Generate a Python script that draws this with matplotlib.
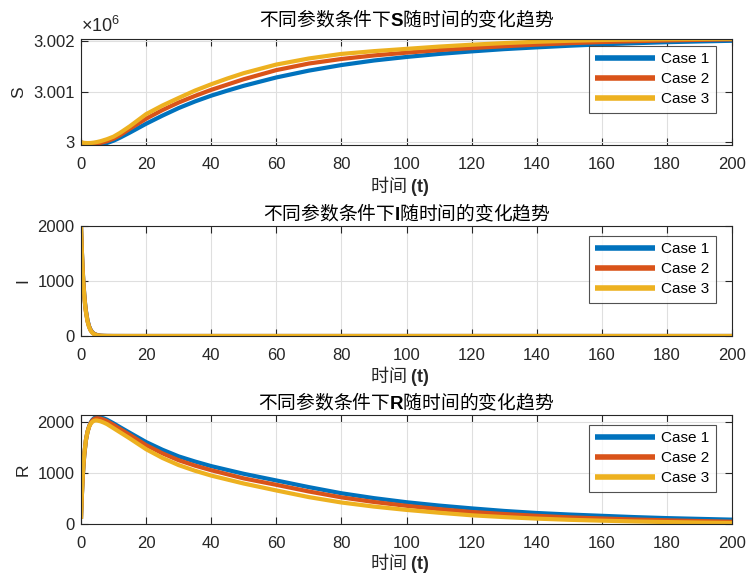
import matplotlib
matplotlib.use("Agg")
import matplotlib.pyplot as plt
from matplotlib.ticker import FixedLocator, FuncFormatter

plt.rcParams['font.family'] = ['Liberation Sans', 'Noto Sans CJK SC', 'DejaVu Sans']
plt.rcParams['mathtext.fontset'] = 'custom'
plt.rcParams['mathtext.rm'] = 'Liberation Sans'
plt.rcParams['mathtext.it'] = 'Liberation Sans:italic'
plt.rcParams['mathtext.bf'] = 'Liberation Sans:bold'

# ---- data ----
# S: values read as S - 3,000,000
tS = [0, 1, 2, 3, 4, 5, 6, 7, 8, 10, 12, 15, 20, 25, 30, 35, 40, 45, 50, 60, 70, 80, 90, 100,
      110, 120, 130, 140, 150, 160, 170, 180, 190, 200]
S_case1 = [0, -22, -40, -52, -56, -52, -42, -28, -10, 35, 95, 195, 370, 530, 680, 810, 925, 1025, 1120,
           1285, 1420, 1530, 1620, 1690, 1750, 1800, 1845, 1880, 1912, 1940, 1962, 1982, 1997, 2010]
S_case2 = [0, -15, -26, -30, -28, -20, -8, 8, 26, 75, 145, 270, 470, 640, 790, 920, 1040, 1145, 1250,
           1430, 1560, 1650, 1720, 1775, 1825, 1865, 1902, 1934, 1962, 1985, 2002, 2017, 2028, 2038]
S_case3 = [0, -8, -12, -10, -2, 10, 25, 45, 65, 115, 190, 320, 560, 730, 880, 1025, 1150, 1265, 1370,
           1540, 1660, 1750, 1805, 1850, 1895, 1932, 1964, 1990, 2010, 2024, 2034, 2041, 2046, 2050]
S_base = 3.0e6

tI = [0, 0.25, 0.5, 0.75, 1, 1.25, 1.5, 2, 2.5, 3, 3.5, 4, 5, 6, 7, 8, 10, 15, 20, 50, 100, 150, 200]
I_case1 = [2000, 1570, 1230, 965, 760, 595, 465, 285, 175, 108, 67, 42, 16, 6, 3, 1, 0.3, 0, 0, 0, 0, 0, 0]
I_case2 = [2000, 1560, 1215, 950, 745, 582, 452, 275, 168, 102, 63, 38, 14, 5, 2, 1, 0.2, 0, 0, 0, 0, 0, 0]
I_case3 = [2000, 1550, 1200, 935, 730, 570, 440, 265, 160, 96, 58, 35, 12, 4, 2, 1, 0.2, 0, 0, 0, 0, 0, 0]

tR = [0, 0.25, 0.5, 0.75, 1, 1.5, 2, 2.5, 3, 3.5, 4, 4.5, 5, 6, 7, 8, 10, 12, 15, 20, 25, 30, 35, 40,
      50, 60, 70, 80, 90, 100, 110, 120, 130, 140, 150, 160, 170, 180, 190, 200]
R_case1 = [100, 530, 870, 1130, 1340, 1630, 1800, 1910, 1985, 2035, 2065, 2085, 2092, 2082, 2062, 2035,
           1965, 1890, 1780, 1600, 1450, 1320, 1220, 1130, 980, 850, 720, 600, 505, 425, 360, 305,
           255, 215, 185, 160, 135, 115, 100, 85]
R_case2 = [100, 540, 880, 1140, 1350, 1635, 1800, 1905, 1975, 2020, 2048, 2062, 2066, 2058, 2036, 2008,
           1935, 1855, 1740, 1540, 1380, 1245, 1140, 1050, 890, 765, 635, 520, 430, 355, 290, 235,
           195, 160, 130, 108, 88, 72, 58, 45]
R_case3 = [100, 550, 890, 1150, 1360, 1640, 1800, 1900, 1960, 1995, 2015, 2022, 2020, 2005, 1980, 1950,
           1870, 1790, 1670, 1460, 1290, 1150, 1040, 945, 790, 655, 525, 420, 340, 275, 220, 170,
           135, 105, 82, 65, 50, 38, 28, 20]

labels = ['Case 1', 'Case 2', 'Case 3']
colors = ['#0072BD', '#D95319', '#EDB120']

titles = [r'不同参数条件下$\mathbf{S}$随时间的变化趋势',
          r'不同参数条件下$\mathbf{I}$随时间的变化趋势',
          r'不同参数条件下$\mathbf{R}$随时间的变化趋势']
ylabels = ['S', 'I', 'R']
xlabel = r'时间 $\mathbf{(t)}$'
xticks = [0, 20, 40, 60, 80, 100, 120, 140, 160, 180, 200]
S_ticklabels = ['3', '3.001', '3.002']

S_all = [[S_base + v for v in s] for s in (S_case1, S_case2, S_case3)]
I_all = [I_case1, I_case2, I_case3]
R_all = [R_case1, R_case2, R_case3]

W, H = 746, 574
fig = plt.figure(figsize=(W / 100, H / 100), dpi=100)

def box(top, bottom, left=81, right=732):
    return [left / W, 1 - bottom / H, (right - left) / W, (bottom - top) / H]

axes = [fig.add_axes(box(39, 145)), fig.add_axes(box(226, 336)), fig.add_axes(box(415, 524))]
datasets = [(tS, S_all), (tI, I_all), (tR, R_all)]
ylims = [(2999950, 3002045), (0, 2000), (0, 2128)]
yticks = [[3000000, 3001000, 3002000], [0, 1000, 2000], [0, 1000, 2000]]
title_pads = [9, 4, 4]
leg_top_px = [7, 10, 10]
xlabel_off_px = [29, 28, 27]

ink = '#262626'
cjk = ['Noto Sans CJK SC', 'DejaVu Sans']
for k, ax in enumerate(axes):
    tt, data = datasets[k]
    for series, lab, c in zip(data, labels, colors):
        ax.plot(tt, series, color=c, lw=3.0, label=lab, solid_capstyle='butt')
    ax.set_xlim(0, 200)
    ax.set_ylim(*ylims[k])
    ax.xaxis.set_major_locator(FixedLocator(xticks))
    ax.yaxis.set_major_locator(FixedLocator(yticks[k]))
    if k == 0:
        lut = dict(zip(yticks[0], S_ticklabels))
        ax.yaxis.set_major_formatter(FuncFormatter(lambda v, p: lut.get(int(round(v)), '')))
        ax.text(0.0, 1.025, r'$\times10^{6}$', transform=ax.transAxes, fontsize=13,
                color=ink, ha='left', va='bottom')
    ax.grid(True, color='#dfdfdf', lw=0.8)
    ax.set_axisbelow(True)
    ax.tick_params(direction='in', top=True, right=True, length=5, width=0.8,
                   colors=ink, labelsize=12)
    ax.tick_params(axis='x', pad=8.5)
    ax.tick_params(axis='y', pad=4.5)
    for sp in ax.spines.values():
        sp.set_color(ink)
        sp.set_linewidth(0.8)
    ax.set_title(titles[k], fontsize=13.5, color='black', pad=title_pads[k], family=cjk)
    axh = ax.get_position().height * H
    ax.set_xlabel(xlabel, fontsize=13, color=ink, labelpad=0, family=cjk)
    ax.xaxis.set_label_coords(0.49, -xlabel_off_px[k] / axh, transform=ax.transAxes)
    ax.xaxis.label.set_va('top')
    ax.set_ylabel(ylabels[k], fontsize=12.5, color=ink, labelpad=5)
    leg = ax.legend(loc='upper right', fontsize=11, handlelength=3.9,
                    frameon=True, fancybox=False, borderpad=0.41,
                    labelspacing=0.4, handletextpad=0.45, borderaxespad=0,
                    bbox_to_anchor=((716 - 81) / 651, 1 - leg_top_px[k] / axh))
    leg.get_frame().set_edgecolor(ink)
    leg.get_frame().set_linewidth(0.8)
    for line in leg.get_lines():
        line.set_linewidth(4)

fig.savefig('out.png', dpi=100)
